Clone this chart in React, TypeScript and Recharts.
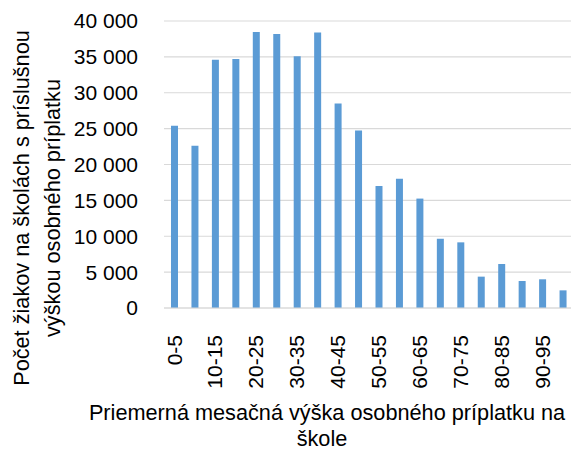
import { Bar, BarChart, CartesianGrid, Label, XAxis, YAxis } from "recharts";

const categories = [
  "0-5", "5-10", "10-15", "15-20", "20-25", "25-30", "30-35", "35-40", "40-45", "45-50",
  "50-55", "55-60", "60-65", "65-70", "70-75", "75-80", "80-85", "85-90", "90-95", "95-100",
];
const pupils = [
  25400, 22600, 34600, 34700, 38450, 38200, 35100, 38400, 28500, 24750,
  17000, 18000, 15250, 9650, 9150, 4370, 6130, 3760, 4000, 2460,
];
const yTicks = [0, 5000, 10000, 15000, 20000, 25000, 30000, 35000, 40000];

const FONT = "'Liberation Sans', Arial, sans-serif";

const fmt = (v: number) => (v >= 1000 ? `${Math.floor(v / 1000)} ${String(v % 1000).padStart(3, "0")}` : `${v}`);

// eslint-disable-next-line @typescript-eslint/no-explicit-any
const XTick = (props: any) => {
  const { x, y, payload } = props;
  return (
    <g transform={`translate(${x},${y})`}>
      <text
        transform="rotate(-90)"
        x={-19}
        dy="0.35em"
        textAnchor="end"
        fontSize={21}
        fontFamily={FONT}
        fill="#000"
      >
        {payload.value}
      </text>
    </g>
  );
};

export default function App() {
  const data = categories.map((c, i) => ({ cat: c, value: pupils[i] }));

  return (
    <div style={{ position: "absolute", left: 0, top: 0, width: 571, height: 452, overflow: "hidden", background: "#fff" }}>
      <BarChart width={580} height={452} data={data} margin={{ top: 21, right: 7, left: 0, bottom: 0 }}>
        <CartesianGrid vertical={false} stroke="#d9d9d9" strokeWidth={1.2} />
        <XAxis
          dataKey="cat"
          interval={1}
          height={144}
          tick={<XTick />}
          tickLine={false}
          axisLine={{ stroke: "#d9d9d9", strokeWidth: 1.2 }}
        >
          <Label
            content={() => (
              <text fontSize={21.7} fontFamily={FONT} fill="#000" textAnchor="middle">
                <tspan x={327} y={420}>Priemerná mesačná výška osobného príplatku na</tspan>
                <tspan x={322} y={446}>škole</tspan>
              </text>
            )}
          />
        </XAxis>
        <YAxis
          width={164}
          domain={[0, 40000]}
          ticks={yTicks}
          tickFormatter={fmt}
          tick={{ fontSize: 21, fontFamily: FONT, fill: "#000" }}
          tickLine={false}
          axisLine={false}
          tickSize={0}
          tickMargin={26}
        >
          <Label
            content={() => (
              <text transform="translate(0,208) rotate(-90)" fontSize={21.7} fontFamily={FONT} fill="#000" textAnchor="middle">
                <tspan x={0} y={29}>Počet žiakov na školách s príslušnou</tspan>
                <tspan x={0} y={60}>výškou osobného príplatku</tspan>
              </text>
            )}
          />
        </YAxis>
        <Bar dataKey="value" fill="#5b9bd5" barSize={7} isAnimationActive={false} />
      </BarChart>
    </div>
  );
}
